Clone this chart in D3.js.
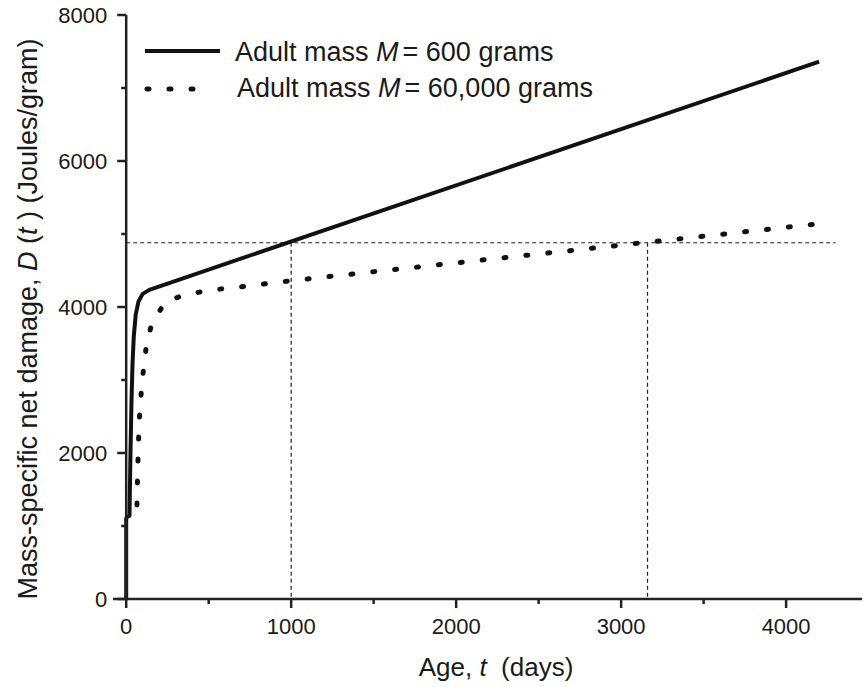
<!DOCTYPE html>
<html>
<head>
<meta charset="utf-8">
<script src="https://cdn.jsdelivr.net/npm/d3@7"></script>
<style>
  body { margin: 0; background: #fff; }
  svg text { font-family: "Liberation Sans", Arial, sans-serif; fill: #1a1a1a; }
</style>
</head>
<body>
<div id="visual"></div>
<script>
// Adult mass 600 g (solid)
const ageSmall    = [0, 0, 3, 20, 26, 32, 38, 46, 58, 75, 100, 140, 4200];
const damageSmall = [0, 1100, 1120, 1140, 2000, 2700, 3200, 3600, 3900, 4080, 4180, 4235, 7360];

// Adult mass 60,000 g (dotted)
const ageLarge    = [64, 70, 78, 90, 103, 121, 152, 230, 345, 485, 618, 751, 885, 1036, 4200];
const damageLarge = [1150, 1800, 2400, 2800, 3110, 3450, 3750, 4050, 4165, 4220, 4260, 4290, 4330, 4370, 5140];

// reference lines
const refDamage = 4880;
const refAges = [1000, 3160];
const refEnd = 4300;

const xMajor = [0, 1000, 2000, 3000, 4000];
const xMinor = [500, 1500, 2500, 3500];
const yMajor = [0, 2000, 4000, 6000, 8000];
const yMinor = [1000, 3000, 5000, 7000];

const legendMass = ["600", "60,000"];

const W = 863, H = 687;

const x = d3.scaleLinear().domain([-80, 4460]).range([113, 862]);
const y = d3.scaleLinear().domain([0, 8000]).range([599, 15]);

const svg = d3.select("#visual").append("svg")
    .attr("width", W)
    .attr("height", H);

const line = d3.line()
    .x(d => x(d[0]))
    .y(d => y(d[1]));

const small = ageSmall.map((a, i) => [a, damageSmall[i]]);
const large = ageLarge.map((a, i) => [a, damageLarge[i]]);

// dashed reference lines
svg.append("line")
    .attr("x1", x(0)).attr("x2", x(refEnd))
    .attr("y1", y(refDamage)).attr("y2", y(refDamage))
    .attr("stroke", "#222").attr("stroke-width", 1.2)
    .attr("stroke-dasharray", "4,3");

svg.selectAll(".vref")
    .data(refAges)
    .enter()
    .append("line")
    .attr("class", "vref")
    .attr("x1", d => x(d)).attr("x2", d => x(d))
    .attr("y1", y(refDamage)).attr("y2", y(0))
    .attr("stroke", "#222").attr("stroke-width", 1.2)
    .attr("stroke-dasharray", "4,3");

// series
svg.append("path")
    .datum(large)
    .attr("fill", "none")
    .attr("stroke", "#111")
    .attr("stroke-width", 5)
    .attr("stroke-linecap", "round")
    .attr("stroke-dasharray", "2,20")
    .attr("stroke-dashoffset", -10)
    .attr("d", line);

svg.append("path")
    .datum(small)
    .attr("fill", "none")
    .attr("stroke", "#111")
    .attr("stroke-width", 4)
    .attr("stroke-linejoin", "round")
    .attr("d", line);

// x axis
const xAxis = svg.append("g").attr("transform", "translate(0," + y(0) + ")");
xAxis.append("line")
    .attr("x1", x.range()[0]).attr("x2", x.range()[1])
    .attr("stroke", "#222").attr("stroke-width", 2.5);
xAxis.selectAll(".xmaj")
    .data(xMajor).enter().append("line")
    .attr("x1", d => x(d)).attr("x2", d => x(d))
    .attr("y1", 0).attr("y2", 9)
    .attr("stroke", "#222").attr("stroke-width", 2.5);
xAxis.selectAll(".xmin")
    .data(xMinor).enter().append("line")
    .attr("x1", d => x(d)).attr("x2", d => x(d))
    .attr("y1", 0).attr("y2", 5)
    .attr("stroke", "#222").attr("stroke-width", 2.5);
xAxis.selectAll(".xlab")
    .data(xMajor).enter().append("text")
    .attr("x", d => x(d)).attr("y", 35)
    .attr("text-anchor", "middle")
    .attr("font-size", 22)
    .text(d => d);

// y axis
const yAxis = svg.append("g").attr("transform", "translate(" + x(0) + ",0)");
yAxis.append("line")
    .attr("y1", y(8000)).attr("y2", y(0))
    .attr("stroke", "#222").attr("stroke-width", 2.5);
yAxis.selectAll(".ymaj")
    .data(yMajor).enter().append("line")
    .attr("y1", d => y(d)).attr("y2", d => y(d))
    .attr("x1", -9).attr("x2", 0)
    .attr("stroke", "#222").attr("stroke-width", 2.5);
yAxis.selectAll(".ymin")
    .data(yMinor).enter().append("line")
    .attr("y1", d => y(d)).attr("y2", d => y(d))
    .attr("x1", -5).attr("x2", 0)
    .attr("stroke", "#222").attr("stroke-width", 2.5);
yAxis.selectAll(".ylab")
    .data(yMajor).enter().append("text")
    .attr("x", -19).attr("y", d => y(d))
    .attr("dy", "0.35em")
    .attr("text-anchor", "end")
    .attr("font-size", 22)
    .text(d => d);

// axis titles
const xTitle = svg.append("text")
    .attr("x", 496).attr("y", 676)
    .attr("text-anchor", "middle")
    .attr("font-size", 26);
xTitle.append("tspan").text("Age, ");
xTitle.append("tspan").attr("font-style", "italic").text("t");
xTitle.append("tspan").attr("xml:space", "preserve").text("  (days)");

const yTitle = svg.append("text")
    .attr("transform", "translate(37,319) rotate(-90)")
    .attr("text-anchor", "middle")
    .attr("font-size", 27);
yTitle.append("tspan").text("Mass-specific net damage, ");
yTitle.append("tspan").attr("font-style", "italic").text("D");
yTitle.append("tspan").text(" (");
yTitle.append("tspan").attr("font-style", "italic").text("t");
yTitle.append("tspan").text(" ) (Joules/gram)");

// legend
const legendY = [51, 89];
const legendTextY = [61, 97];
const legend = svg.selectAll(".leg")
    .data(legendMass).enter().append("g");
legend.append("line")
    .attr("x1", (d, i) => i ? 147 : 145)
    .attr("x2", (d, i) => i ? 195 : 220)
    .attr("y1", (d, i) => legendY[i])
    .attr("y2", (d, i) => legendY[i])
    .attr("stroke", "#111")
    .attr("stroke-width", (d, i) => i ? 5 : 4)
    .attr("stroke-linecap", (d, i) => i ? "round" : "butt")
    .attr("stroke-dasharray", (d, i) => i ? "2,20" : null);
const legText = legend.append("text")
    .attr("x", (d, i) => i ? 237 : 235)
    .attr("y", (d, i) => legendTextY[i])
    .attr("font-size", 27);
legText.append("tspan").text("Adult mass ");
legText.append("tspan").attr("font-style", "italic").text("M");
legText.append("tspan").attr("dx", 4).text(d => "= " + d + " grams");
</script>
</body>
</html>
